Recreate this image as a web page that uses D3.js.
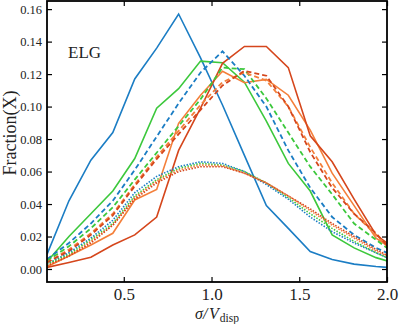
<!DOCTYPE html>
<html>
<head>
<meta charset="utf-8" />
<script src="https://d3js.org/d3.v7.min.js"></script>
<style>
body { margin: 0; background: #fff; }
text { font-family: "Liberation Serif", "DejaVu Serif", serif; fill: #222; }
.line { fill: none; stroke-width: 1.6px; }
</style>
</head>
<body>
<script>
// bin centres of sigma / V_disp
var bins = [0.0625, 0.1875, 0.3125, 0.4375, 0.5625, 0.6875, 0.8125, 0.9375, 1.0625,
            1.1875, 1.3125, 1.4375, 1.5625, 1.6875, 1.8125, 1.9375, 2.0625];

// solid lines
var blueSolid   = [0.009, 0.042, 0.067, 0.084, 0.117, 0.136, 0.157, 0.130, 0.101, 0.070, 0.039, 0.025, 0.0107, 0.0058, 0.003, 0.0015, 0.0005];
var greenSolid  = [0.0045, 0.020, 0.034, 0.048, 0.068, 0.099, 0.111, 0.128, 0.127, 0.115, 0.091, 0.065, 0.048, 0.021, 0.013, 0.007, 0.003];
var orangeSolid = [0.0014, 0.008, 0.0148, 0.022, 0.0425, 0.049, 0.0897, 0.107, 0.1218, 0.1147, 0.1167, 0.107, 0.0855, 0.059, 0.039, 0.019, 0.010];
var redSolid    = [0.001, 0.004, 0.0072, 0.0148, 0.021, 0.032, 0.073, 0.099, 0.1266, 0.137, 0.137, 0.124, 0.082, 0.066, 0.043, 0.021, 0.011];

// dashed lines
var blueDashed   = [0.006, 0.016, 0.028, 0.042, 0.061, 0.0815, 0.102, 0.121, 0.134, 0.119, 0.100, 0.073, 0.050, 0.032, 0.021, 0.013, 0.007];
var greenDashed  = [0.005, 0.014, 0.025, 0.038, 0.055, 0.0716, 0.088, 0.1045, 0.124, 0.123, 0.105, 0.084, 0.063, 0.046, 0.028, 0.018, 0.008];
var orangeDashed = [0.004, 0.012, 0.022, 0.034, 0.052, 0.069, 0.085, 0.101, 0.115, 0.121, 0.116, 0.100, 0.075, 0.053, 0.034, 0.021, 0.007];
var redDashed    = [0.004, 0.011, 0.021, 0.033, 0.051, 0.0677, 0.083, 0.098, 0.113, 0.122, 0.119, 0.100, 0.072, 0.050, 0.034, 0.022, 0.007];

// dotted lines
var blueDotted   = [0.003, 0.010, 0.019, 0.030, 0.047, 0.057, 0.063, 0.066, 0.065, 0.060, 0.052, 0.043, 0.032, 0.023, 0.016, 0.010, 0.004];
var greenDotted  = [0.003, 0.009, 0.018, 0.028, 0.045, 0.055, 0.062, 0.065, 0.064, 0.060, 0.053, 0.044, 0.034, 0.025, 0.017, 0.010, 0.004];
var orangeDotted = [0.002, 0.008, 0.017, 0.027, 0.044, 0.054, 0.061, 0.064, 0.0635, 0.059, 0.053, 0.045, 0.036, 0.027, 0.019, 0.011, 0.005];
var redDotted    = [0.002, 0.008, 0.016, 0.027, 0.043, 0.053, 0.060, 0.063, 0.063, 0.059, 0.053, 0.045, 0.037, 0.028, 0.020, 0.012, 0.005];

var xTicks = [0.5, 1.0, 1.5, 2.0];
var yTicks = [0.00, 0.02, 0.04, 0.06, 0.08, 0.10, 0.12, 0.14, 0.16];

var colors = { blue: "#1b7dc4", green: "#3cc83c", orange: "#f47f3a", red: "#d5461c" };

var series = [
  { v: blueSolid,    c: colors.blue,   dash: null, w: 1.6 },
  { v: greenSolid,   c: colors.green,  dash: null, w: 1.6 },
  { v: orangeSolid,  c: colors.orange, dash: null, w: 1.6 },
  { v: redSolid,     c: colors.red,    dash: null, w: 1.6 },
  { v: blueDashed,   c: colors.blue,   dash: "5,3", w: 1.8 },
  { v: greenDashed,  c: colors.green,  dash: "5,3", w: 1.8 },
  { v: orangeDashed, c: colors.orange, dash: "5,3", w: 1.8 },
  { v: redDashed,    c: colors.red,    dash: "5,3", w: 1.8 },
  { v: blueDotted,   c: colors.blue,   dash: "1.5,1.5", w: 1.6 },
  { v: greenDotted,  c: colors.green,  dash: "1.5,1.5", w: 1.6 },
  { v: orangeDotted, c: colors.orange, dash: "1.5,1.5", w: 1.6 },
  { v: redDotted,    c: colors.red,    dash: "1.5,1.5", w: 1.6 }
];

var W = 399, H = 324;
var margin = {top: 1, right: 12, bottom: 42, left: 47};
var width = W - margin.left - margin.right,
    height = H - margin.top - margin.bottom;

var x = d3.scaleLinear().domain([0.0625, 2.0]).range([0, width]);
var y = d3.scaleLinear().domain([-0.008, 0.165]).range([height, 0]);

var svg = d3.select("body").append("svg")
    .attr("width", W).attr("height", H);
var g = svg.append("g")
    .attr("transform", "translate(" + margin.left + "," + margin.top + ")");

g.append("clipPath").attr("id", "clip")
  .append("rect").attr("width", width).attr("height", height);

var line = d3.line()
    .x(function(d, i) { return x(bins[i]); })
    .y(function(d) { return y(d); });

g.append("g").attr("clip-path", "url(#clip)")
  .selectAll("path")
  .data(series)
  .enter().append("path")
    .attr("class", "line")
    .style("stroke", function(d) { return d.c; })
    .style("stroke-width", function(d) { return d.w; })
    .style("stroke-dasharray", function(d) { return d.dash; })
    .attr("d", function(d) { return line(d.v); });

// axes, ticks pointing inwards on all four sides
var fmtY = d3.format(".2f"), fmtX = d3.format(".1f");
var xAxis = g.append("g").attr("transform", "translate(0," + height + ")")
    .call(d3.axisBottom(x).tickValues(xTicks).tickSize(-5).tickPadding(6).tickFormat(fmtX));
var xTop = g.append("g")
    .call(d3.axisTop(x).tickValues(xTicks).tickSize(-5).tickFormat(""));
var yAxis = g.append("g")
    .call(d3.axisLeft(y).tickValues(yTicks).tickSize(-5).tickPadding(5).tickFormat(fmtY));
var yRight = g.append("g").attr("transform", "translate(" + width + ",0)")
    .call(d3.axisRight(y).tickValues(yTicks).tickSize(-5).tickFormat(""));

[xAxis, xTop, yAxis, yRight].forEach(function(a) {
  a.select(".domain").remove();
  a.selectAll(".tick line").attr("stroke", "#000").attr("stroke-width", 1.2);
  a.selectAll("text").style("font-family", "'Liberation Serif', serif").attr("fill", "#333");
});
xAxis.selectAll("text").style("font-size", "17px");
yAxis.selectAll("text").style("font-size", "12.5px");

g.append("rect")
  .attr("width", width).attr("height", height)
  .attr("fill", "none").attr("stroke", "#000").attr("stroke-width", 1.8);

// labels
g.append("text")
  .attr("x", 21).attr("y", 57)
  .style("font-size", "17px")
  .attr("fill", "#333")
  .text("ELG");

var xl = svg.append("text")
  .attr("x", margin.left + width / 2).attr("y", 319)
  .attr("text-anchor", "middle")
  .attr("fill", "#333")
  .style("font-size", "16px");
xl.append("tspan").style("font-style", "italic").text("σ/");
xl.append("tspan").attr("dx", 1.5).style("font-style", "italic").text("V");
xl.append("tspan").attr("dx", 1).attr("dy", 3).style("font-size", "11.5px").text("disp");

svg.append("text")
  .attr("transform", "translate(16,133) rotate(-90)")
  .attr("text-anchor", "middle")
  .attr("fill", "#333")
  .style("font-size", "18px")
  .text("Fraction(X)");
</script>
</body>
</html>
